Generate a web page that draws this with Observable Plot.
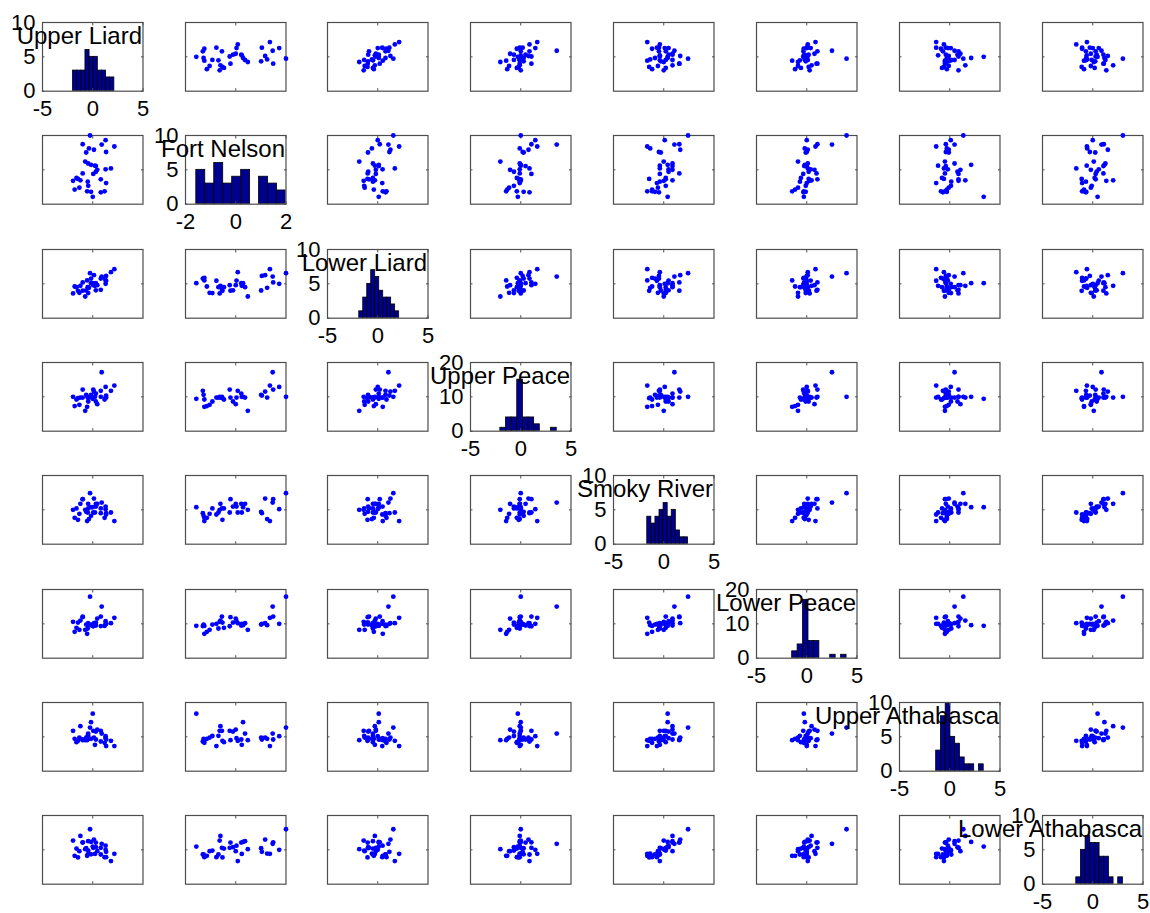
<!DOCTYPE html>
<html>
<head>
<meta charset="utf-8">
<script src="https://cdn.jsdelivr.net/npm/d3@7"></script>
<script src="https://cdn.jsdelivr.net/npm/@observablehq/plot@0.6"></script>
<style>
  body { margin: 0; background: #fff; }
  #matrix { position: relative; width: 1150px; height: 913px; overflow: hidden; background: #fff; }
  #matrix svg { position: absolute; overflow: visible; background: transparent; }
</style>
</head>
<body>
<div id="matrix"></div>
<script>
// Station names, in matrix order
const stations = ["Upper Liard", "Fort Nelson", "Lower Liard", "Upper Peace",
                  "Smoky River", "Lower Peace", "Upper Athabasca", "Lower Athabasca"];

// Standardised values, one entry per year (35 years)
const upperLiard = [0, 0.8, -0.17, 1.18, -0.56, -1.8, -1.33, -0.45, 1.33, -0.5, -1.96, -1.23, 0.8, -1.47, -1.62,
  0.05, -1.0, 0.31, 0.45, 1.28, 1.81, 0.31, 0.22, -0.17, -0.46, -0.75, -0.65, 1.33, 0.12, -0.38, 2.15, 0.89, -1.0, 1.28, -0.27];
const fortNelson = [-1.57, -1.31, -1.28, -1.25, -1.25, -1.15, -1.04, -0.93, -0.77, -0.69, -0.64, -0.61, -0.55, -0.53, -0.47,
  -0.24, -0.21, -0.11, 0.0, 0.03, 0.08, 0.22, 0.24, 0.29, 0.37, 0.48, 1.01, 1.04, 1.17, 1.25, 1.36, 1.47, 1.49, 1.73, 2.0];
const lowerLiard = [0.1, 0.77, 0.77, 0.87, 0.5, -0.39, -1.3, -1.35, 0.45, -0.48, -1.4, -0.29, -0.87, -1.02, -0.48,
  -0.19, -1.0, -0.95, -0.19, 0.48, 1.7, 0.1, -0.29, 0.1, -0.48, -1.84, -0.97, 1.16, 1.26, -0.58, 2.13, 1.06, 0.2, 0, 1.55];
const upperPeace = [-0.29, 0.87, 0.29, -0.39, -1.45, -1.35, -1.16, -0.68, -0.1, -0.1, 0, -0.1, 0, -0.2, -0.39,
  1.06, -0.1, -0.68, -1.06, -0.1, 0.87, 0.48, 0, 0, -0.1, -2.03, 0.29, 0.19, 0.77, -0.1, 1.64, 3.58, 1.06, 1.45, 0];
const smokyRiver = [0.39, -0.48, -0.87, -1.16, -1.64, -1.16, -0.58, 0.2, -0.68, -0.39, 0, 0.87, 0.2, -1.45, 0.2,
  -0.39, 1.55, 0.48, 0.87, 0.48, -0.39, 0.87, -0.39, 0.39, 0.87, 0, -0.29, -0.48, 1.64, -1.35, -1.64, 1.06, 1.55, 0.1, 2.42];
const lowerPeace = [-0.29, -0.33, -0.1, -0.3, -1.45, -1.16, -0.87, -0.1, 0, -0.68, 0.29, 0.48, 1.06, 0.19, -0.58,
  -0.35, 0.97, 0.19, 0.77, 0.39, 0.1, -0.25, 0, -0.19, 0.1, -0.87, -0.1, 0, 0.1, -0.2, 0.87, 2.51, 1.06, 0, 3.96];
const upperAthabasca = [3.38, -0.68, -0.29, -0.87, -0.48, -0.29, -0.1, 0.12, -1.35, 0.15, 0.87, 1.55, 0.87, -0.58, -0.77,
  0.87, -0.48, 0.77, 1.06, -0.19, -0.58, -0.39, -1.16, 2.13, 0.48, -0.48, -0.1, -0.39, -0.1, -0.29, -1.35, 0.48, -0.39, 0.1, 1.35];
const lowerAthabasca = [0.48, -0.68, -0.65, -1.06, -0.87, -0.87, -0.19, -0.1, -1.06, -0.68, 1.35, 2.03, 0.29, -1.1, 0.19,
  0.29, 1.06, 0.39, -0.19, 0.6, -1.64, 1.06, -0.6, 1.16, 1.26, 0.1, 0.25, -0.29, 1.5, -0.55, -0.58, 0.87, 1.1, 0, 3.0];

const series = [upperLiard, fortNelson, lowerLiard, upperPeace, smokyRiver, lowerPeace, upperAthabasca, lowerAthabasca];

// Value axis limits and ticks for each station
const valueLimits = [[-5, 5], [-2, 2], [-5, 5], [-5, 5], [-5, 5], [-5, 5], [-5, 5], [-5, 5]];
const valueTicks = [[-5, 0, 5], [-2, 0, 2], [-5, 0, 5], [-5, 0, 5], [-5, 0, 5], [-5, 0, 5], [-5, 0, 5], [-5, 0, 5]];
// Count axis limits and ticks for the histograms on the diagonal
const countLimits = [[0, 10], [0, 10], [0, 10], [0, 20], [0, 10], [0, 20], [0, 10], [0, 10]];
const countTicks = [[0, 5, 10], [0, 5, 10], [0, 5, 10], [0, 10, 20], [0, 5, 10], [0, 10, 20], [0, 5, 10], [0, 5, 10]];

// Panel layout
const PW = 100.5, PH = 68.7;
const ML = 55, MR = 25, MT = 25, MB = 45;
const panelLeft = j => 41.7 + j * 142.86;
const panelTop = i => 22 + i * 113.3;
const FRAME = "#4d4d4d";
const FONT = "'Liberation Sans', Arial, Helvetica, sans-serif";
const TICK = 2.5;

const container = document.getElementById("matrix");

function innerTicks(xt, yt) {
  const blank = () => "";
  return [
    Plot.axisX(xt, {anchor: "bottom", tickSize: TICK, dy: -TICK, tickFormat: blank, stroke: FRAME, label: null}),
    Plot.axisX(xt, {anchor: "top", tickSize: TICK, dy: TICK, tickFormat: blank, stroke: FRAME, label: null}),
    Plot.axisY(yt, {anchor: "left", tickSize: TICK, dx: TICK, tickFormat: blank, stroke: FRAME, label: null}),
    Plot.axisY(yt, {anchor: "right", tickSize: TICK, dx: -TICK, tickFormat: blank, stroke: FRAME, label: null})
  ];
}

function place(svg, i, j) {
  svg.style.left = (panelLeft(j) - ML) + "px";
  svg.style.top = (panelTop(i) - MT) + "px";
  container.appendChild(svg);
}

const base = {
  width: PW + ML + MR,
  height: PH + MT + MB,
  marginLeft: ML, marginRight: MR, marginTop: MT, marginBottom: MB,
  style: {fontFamily: FONT, overflow: "visible", background: "transparent", color: "black"}
};

// Off-diagonal scatter panels: column station on x, row station on y
for (let i = 0; i < 8; ++i) {
  for (let j = 0; j < 8; ++j) {
    if (i === j) continue;
    const svg = Plot.plot({
      ...base,
      x: {domain: valueLimits[j], label: null},
      y: {domain: valueLimits[i], label: null},
      marks: [
        Plot.frame({stroke: FRAME, strokeWidth: 1.2}),
        ...innerTicks([0], [0]),
        Plot.dot(series[j], {x: series[j], y: series[i], r: 2.4, fill: "#0000ff", stroke: "none"})
      ]
    });
    place(svg, i, j);
  }
}

// Diagonal histograms, ten equal-width bins between each series' minimum and maximum
for (let i = 0; i < 8; ++i) {
  const values = series[i];
  const [lo, hi] = d3.extent(values);
  const edges = d3.range(1, 10).map(k => lo + k * (hi - lo) / 10);
  const bins = d3.bin().domain([lo, hi]).thresholds(edges)(values);
  const svg = Plot.plot({
    ...base,
    x: {domain: valueLimits[i], label: null},
    y: {domain: countLimits[i], label: null},
    marks: [
      Plot.rectY(bins, {x1: "x0", x2: "x1", y: d => d.length, fill: "#00008f", stroke: "black",
        strokeWidth: 0.8, clip: true}),
      Plot.frame({stroke: FRAME, strokeWidth: 1.2}),
      ...innerTicks(valueTicks[i], countTicks[i]),
      Plot.axisX(valueTicks[i], {anchor: "bottom", tickSize: 0, tickPadding: 9, fontSize: 22,
        tickFormat: d => String(d), label: null}),
      Plot.axisY(countTicks[i], {anchor: "left", tickSize: 0, tickPadding: 7, fontSize: 22,
        tickFormat: d => String(d), label: null}),
      Plot.text([stations[i]], {text: d => d, frameAnchor: "top-right", textAnchor: "end",
        lineAnchor: "middle", dx: -1, dy: 14, fontSize: 24, fill: "black"})
    ]
  });
  place(svg, i, i);
}
</script>
</body>
</html>
